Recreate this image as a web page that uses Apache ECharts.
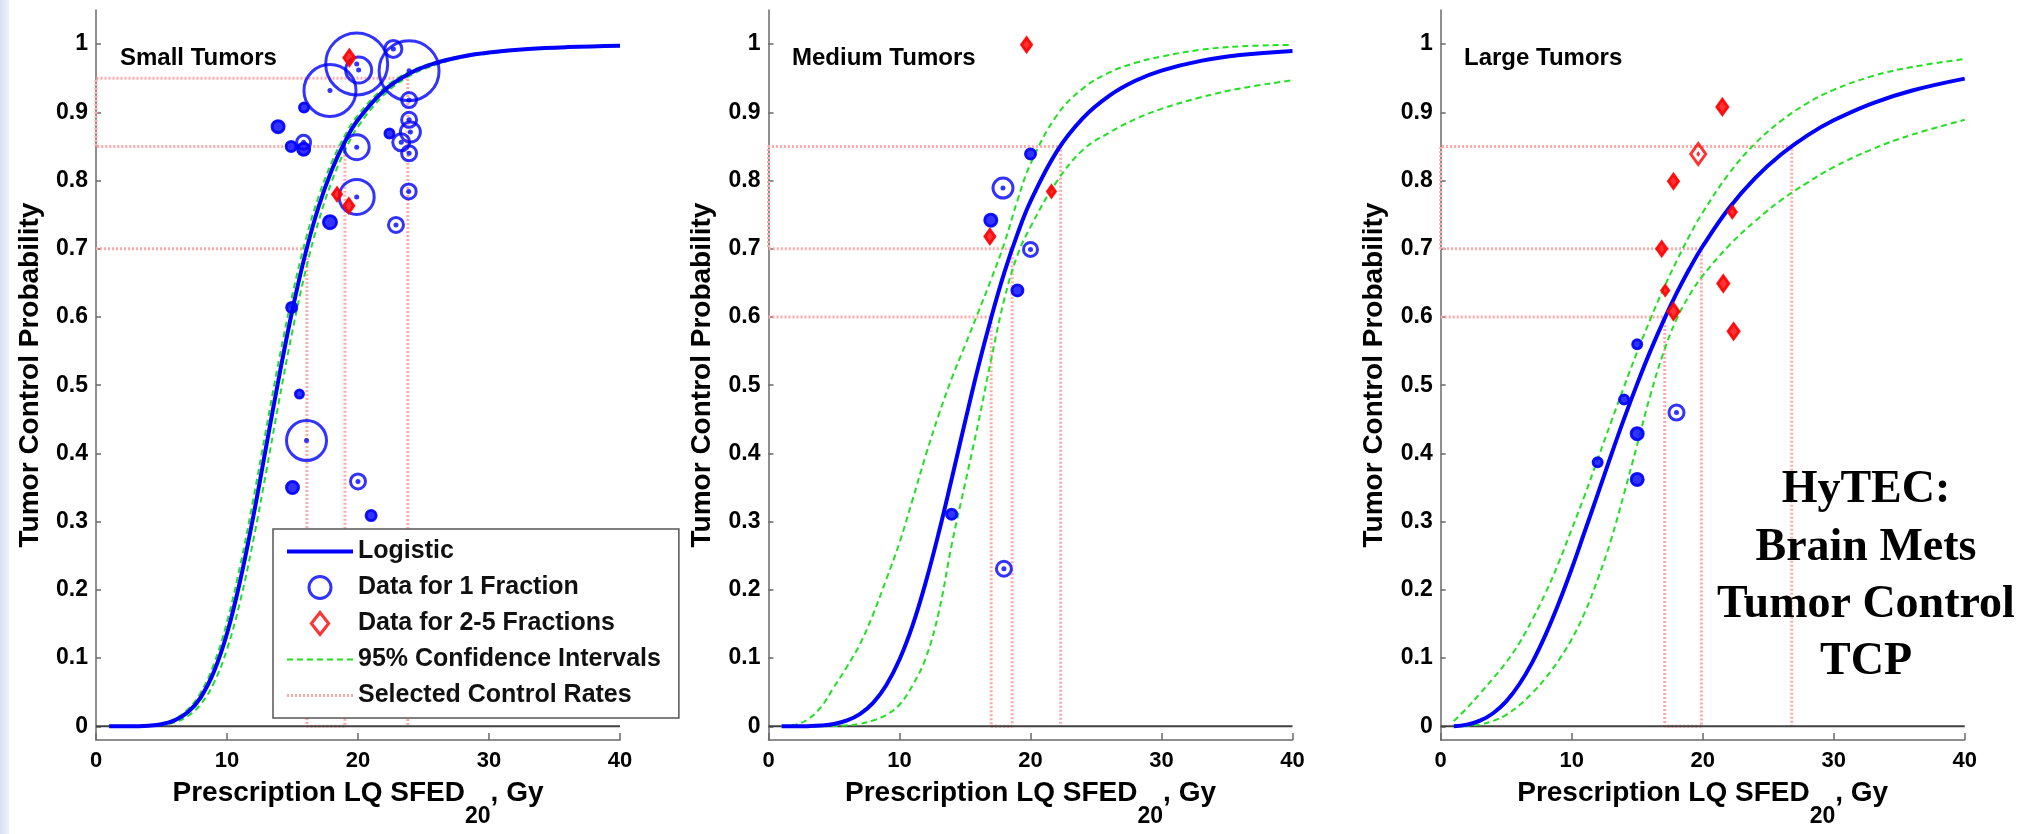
<!DOCTYPE html>
<html>
<head>
<meta charset="utf-8">
<script src="https://cdn.jsdelivr.net/npm/echarts@6/dist/echarts.min.js"></script>
<style>
html,body{margin:0;padding:0;background:#fff;}
#chart{width:2020px;height:834px;}
</style>
</head>
<body>
<div id="chart"></div>
<script>
// ---------- data ----------
const doseGrid = [1,2,3,4,5,6,7,8,9,10,11,12,13,14,15,16,17,18,19,20,22,24,26,28,30,33,36,40];

const smallFit   = [0,0,0.0002,0.0009,0.0031,0.0087,0.0205,0.0426,0.0799,0.136,0.213,0.307,0.411,0.515,0.611,0.694,0.762,0.8155,0.857,0.889,0.932,0.9576,0.9727,0.9819,0.9876,0.9928,0.9956,0.9976];
const smallUpper = [0,0,0.0003,0.0012,0.004,0.0108,0.0246,0.0498,0.0915,0.153,0.235,0.332,0.437,0.540,0.633,0.713,0.777,0.827,0.866,0.896,0.936,0.960,0.974,0.9828,0.988,0.9931,0.9958,0.9978];
const smallLower = [0,0,0.0001,0.0006,0.002,0.0059,0.0148,0.0325,0.0637,0.113,0.183,0.272,0.374,0.480,0.580,0.668,0.741,0.799,0.844,0.879,0.926,0.954,0.970,0.9806,0.986,0.9923,0.9952,0.9972];

const mediumFit   = [0,0,0.0003,0.0012,0.0035,0.0087,0.0183,0.0348,0.0607,0.098,0.148,0.211,0.284,0.364,0.446,0.526,0.599,0.665,0.7215,0.7695,0.8425,0.8915,0.9242,0.9463,0.9612,0.9754,0.9839,0.990];
const mediumUpper = [0.0001,0.0021,0.0103,0.0281,0.0577,0.0877,0.1212,0.165,0.2159,0.2691,0.3323,0.397,0.4569,0.5108,0.5582,0.6066,0.6553,0.7078,0.7706,0.8243,0.8953,0.935,0.9582,0.9726,0.9818,0.9917,0.9967,0.9989];
const mediumLower = [0,0,0,0.0001,0.0005,0.0015,0.0039,0.0087,0.017,0.0317,0.0602,0.1,0.1676,0.2676,0.3553,0.4435,0.538,0.6259,0.6904,0.7321,0.7984,0.845,0.87,0.89,0.905,0.922,0.935,0.947];

const largeFit   = [0.0003,0.0025,0.0083,0.0192,0.0367,0.0617,0.0942,0.134,0.180,0.231,0.286,0.341,0.397,0.451,0.502,0.550,0.594,0.6345,0.671,0.7037,0.7594,0.8035,0.8385,0.8663,0.8883,0.9136,0.932,0.9494];
const largeUpper = [0.0077,0.0267,0.048,0.0704,0.0939,0.122,0.1567,0.1955,0.2397,0.289,0.339,0.3925,0.4456,0.498,0.549,0.5964,0.6413,0.6816,0.7196,0.7531,0.81,0.8543,0.8877,0.9136,0.933,0.9534,0.9666,0.9781];
const largeLower = [0.0001,0.0007,0.0029,0.0079,0.0169,0.031,0.0491,0.0708,0.0967,0.1278,0.167,0.2163,0.2732,0.3413,0.4129,0.4851,0.5476,0.5966,0.6323,0.6604,0.7046,0.7405,0.7715,0.797,0.8196,0.8465,0.8673,0.889];

// selected control rates: doses and rates
const smallCtrlDose  = [16.1, 19.0, 23.8];
const smallCtrlRate  = [0.70, 0.85, 0.95];
const mediumCtrlDose = [17.0, 18.6, 22.3];
const mediumCtrlRate = [0.60, 0.70, 0.85];
const largeCtrlDose  = [17.1, 19.9, 26.8];
const largeCtrlRate  = [0.60, 0.70, 0.85];

// observed data: [dose, control rate, bubble weight]
const small1Fx = [[19.9,0.971,62],[20.05,0.962,26],[17.86,0.932,52],[23.9,0.961,60],[22.7,0.993,17],
  [15.88,0.907,9],[13.9,0.879,12],[14.9,0.85,10],[15.85,0.856,14],[15.85,0.846,12],[22.4,0.869,9],
  [23.9,0.918,15],[23.9,0.889,15],[24.0,0.871,20],[23.3,0.856,17],[23.9,0.84,15],[19.9,0.849,25],
  [19.9,0.776,35],[17.86,0.739,13],[23.87,0.784,15],[22.9,0.735,15],[14.94,0.614,10],[15.53,0.487,8],
  [16.07,0.419,40],[15.0,0.35,12],[20.0,0.359,15],[21.0,0.309,10]];
const small25Fx = [[19.34,0.980,11],[18.4,0.78,9],[19.3,0.763,10]];
const medium1Fx = [[20.0,0.839,10],[17.9,0.789,20],[16.97,0.742,12],[20.0,0.699,14],[19.0,0.639,11],[13.98,0.311,10],[17.97,0.231,15]];
const medium25Fx = [[19.7,0.999,10],[21.6,0.784,8],[16.9,0.718,10]];
const large1Fx = [[15.0,0.56,9],[14.0,0.479,9],[18.0,0.46,15],[15.0,0.429,12],[11.98,0.387,9],[15.0,0.362,12]];
const large25Fx = [[21.5,0.908,11],[19.66,0.839,15],[17.77,0.799,10],[22.26,0.754,8],[16.87,0.7,10],[17.14,0.639,7],[17.77,0.608,11],[21.57,0.649,11],[22.36,0.579,11]];

const panelTitles = ['Small Tumors','Medium Tumors','Large Tumors'];
const yTickValues = [0,0.1,0.2,0.3,0.4,0.5,0.6,0.7,0.8,0.9,1];
const legendNames = ['Logistic','Data for 1 Fraction','Data for 2-5 Fractions','95% Confidence Intervals','Selected Control Rates'];
const noteLines = ['HyTEC:','Brain Mets','Tumor Control','TCP'];

// ---------- build ----------
const FONT = '"Liberation Sans", Arial, Helvetica, sans-serif';
const BLUE = '#0000ff', RED = '#ff0000', GREEN = '#22e022', PINK = '#ffaaaa';
const HIDDEN = {color: 'rgba(0,0,0,0)', borderColor: 'rgba(0,0,0,0)', borderWidth: 0, opacity: 0};
const RING_STYLE = {color: 'rgba(0,0,0,0)', borderColor: BLUE, borderWidth: 3};
const DIAMOND_STYLE = {color: 'rgba(0,0,0,0)', borderColor: RED, borderWidth: 3};
const FIT_LINE = {color: BLUE, width: 4};
const CI_LINE = {color: GREEN, width: 2, type: [6, 4]};
const CTRL_LINE = {color: PINK, width: 3, type: [2, 2]};

const panels = [
  {fit: smallFit, up: smallUpper, lo: smallLower, cd: smallCtrlDose, cr: smallCtrlRate, d1: small1Fx, d2: small25Fx},
  {fit: mediumFit, up: mediumUpper, lo: mediumLower, cd: mediumCtrlDose, cr: mediumCtrlRate, d1: medium1Fx, d2: medium25Fx},
  {fit: largeFit, up: largeUpper, lo: largeLower, cd: largeCtrlDose, cr: largeCtrlRate, d1: large1Fx, d2: large25Fx}
];
const gridLefts = [96, 768.5, 1440.7];

function pairs(ys){ return doseGrid.map((x,i)=>[x, ys[i]]); }
function ctrlPath(d, r){
  return [[0,r[0]],[d[0],r[0]],[d[0],0],[d[1],0],[d[1],r[1]],[0,r[1]],[0,r[2]],[d[2],r[2]],[d[2],0]];
}

const grids = [], xAxes = [], yAxes = [], series = [];
panels.forEach((p, i) => {
  grids.push({left: gridLefts[i], top: 10, width: 524, height: 730, containLabel: false});
  xAxes.push({
    type: 'value', gridIndex: i, min: 0, max: 40, interval: 10,
    name: '{b|Prescription LQ SFED}{s|20}{b|, Gy}',
    nameLocation: 'middle', nameGap: 39,
    nameTextStyle: {
      rich: {
        b: {fontFamily: FONT, fontWeight: 'bold', fontSize: 28, lineHeight: 28, verticalAlign: 'top', color: '#000'},
        s: {fontFamily: FONT, fontWeight: 'bold', fontSize: 23, lineHeight: 24, padding: [26,0,0,0], verticalAlign: 'top', color: '#000'}
      }
    },
    axisLine: {show: true, onZero: false, lineStyle: {color: '#6a6a6a', width: 1.5}},
    axisTick: {show: true, inside: true, length: 7, lineStyle: {color: '#6a6a6a', width: 1.5}},
    axisLabel: {fontFamily: FONT, fontWeight: 'bold', fontSize: 22, color: '#000', margin: 10, lineHeight: 22},
    splitLine: {show: false}
  });
  yAxes.push({
    type: 'value', gridIndex: i, min: -0.02, max: 1.05,
    name: 'Tumor Control Probability', nameLocation: 'middle', nameGap: 52,
    nameTextStyle: {fontFamily: FONT, fontWeight: 'bold', fontSize: 28, lineHeight: 28, color: '#000'},
    axisLine: {show: true, lineStyle: {color: '#6a6a6a', width: 1.5}},
    axisTick: {show: true, inside: true, length: 5, customValues: yTickValues, lineStyle: {color: '#6a6a6a', width: 1.5}},
    axisLabel: {fontFamily: FONT, fontWeight: 'bold', fontSize: 23, color: '#000', margin: 8, customValues: yTickValues,
      formatter: v => String(Math.round(v*10)/10)},
    splitLine: {show: false}
  });
  series.push({
    type: 'line', name: 'Selected Control Rates', xAxisIndex: i, yAxisIndex: i,
    data: ctrlPath(p.cd, p.cr), symbol: 'none', silent: true, z: 1,
    itemStyle: HIDDEN, lineStyle: CTRL_LINE
  });
  series.push({
    type: 'line', name: 'zero', xAxisIndex: i, yAxisIndex: i,
    data: [[0,0],[40,0]], symbol: 'none', silent: true, z: 1,
    lineStyle: {color: '#404040', width: 2}
  });
  series.push({
    type: 'line', name: '95% Confidence Intervals', xAxisIndex: i, yAxisIndex: i,
    data: pairs(p.up), symbol: 'none', smooth: 0.4, z: 2,
    itemStyle: HIDDEN, lineStyle: CI_LINE
  });
  series.push({
    type: 'line', name: '95% Confidence Intervals', xAxisIndex: i, yAxisIndex: i,
    data: pairs(p.lo), symbol: 'none', smooth: 0.4, z: 2,
    itemStyle: HIDDEN, lineStyle: CI_LINE
  });
  series.push({
    type: 'line', name: 'Logistic', xAxisIndex: i, yAxisIndex: i,
    data: pairs(p.fit), symbol: 'none', smooth: 0.4, z: 3,
    itemStyle: HIDDEN, lineStyle: FIT_LINE
  });
  series.push({
    type: 'scatter', name: 'Data for 1 Fraction', xAxisIndex: i, yAxisIndex: i,
    data: p.d1, symbol: 'circle', symbolSize: v => v[2], z: 4,
    itemStyle: RING_STYLE
  });
  series.push({
    type: 'scatter', name: 'dot1', xAxisIndex: i, yAxisIndex: i,
    data: p.d1, symbol: 'circle', symbolSize: v => (v[2] <= 13 ? v[2] + 2 : 5), z: 5,
    itemStyle: {color: BLUE}
  });
  series.push({
    type: 'scatter', name: 'Data for 2-5 Fractions', xAxisIndex: i, yAxisIndex: i,
    data: p.d2, symbol: 'diamond', symbolSize: v => [v[2], v[2]*1.4], z: 4,
    itemStyle: DIAMOND_STYLE
  });
  series.push({
    type: 'scatter', name: 'dot2', xAxisIndex: i, yAxisIndex: i,
    data: p.d2, symbol: 'diamond', symbolSize: v => (v[2] <= 12 ? [v[2]+2, (v[2]+2)*1.4] : [4, 6]), z: 5,
    itemStyle: {color: RED}
  });
});

const graphics = [
  {type: 'rect', left: 0, top: 0, z: -10, shape: {x: 0, y: 0, width: 9, height: 834},
   style: {fill: new echarts.graphic.LinearGradient(0, 0, 1, 0, [{offset: 0, color: '#d6e0f1'}, {offset: 1, color: '#eef2fa'}])}}
];
const titleX = [120, 792, 1464];
panelTitles.forEach((t, i) => {
  graphics.push({type: 'text', x: titleX[i], y: 58, z: 10,
    style: {text: t, font: 'bold 24px ' + FONT, fill: '#000', textAlign: 'left', textVerticalAlign: 'middle'}});
});
const noteBase = [505, 563, 620, 677];
noteLines.forEach((t, i) => {
  graphics.push({type: 'text', x: 1866, y: noteBase[i] - 15, z: 10,
    style: {text: t, font: 'bold 46px "Liberation Serif", "Times New Roman", serif', fill: '#000', textAlign: 'center', textVerticalAlign: 'middle'}});
});

const legendData = [
  {name: legendNames[0], itemStyle: HIDDEN, lineStyle: FIT_LINE},
  {name: legendNames[1], itemStyle: RING_STYLE},
  {name: legendNames[2], icon: 'path://M11,0L22,14L11,28L0,14Z', itemStyle: DIAMOND_STYLE},
  {name: legendNames[3], itemStyle: HIDDEN, lineStyle: CI_LINE},
  {name: legendNames[4], itemStyle: HIDDEN, lineStyle: CTRL_LINE}
];

const chart = echarts.init(document.getElementById('chart'), null, {renderer: 'canvas'});
chart.setOption({
  backgroundColor: '#fff',
  animation: false,
  grid: grids,
  xAxis: xAxes,
  yAxis: yAxes,
  legend: {
    data: legendData,
    orient: 'vertical', left: 273, top: 529,
    itemWidth: 66, itemHeight: 22, itemGap: 11,
    padding: [10, 18, 10, 12],
    symbolKeepAspect: true,
    backgroundColor: '#fff', borderColor: '#555', borderWidth: 1.5, borderRadius: 0,
    selectedMode: false,
    textStyle: {fontFamily: FONT, fontWeight: 'bold', fontSize: 25, lineHeight: 24, color: '#111'}
  },
  graphic: graphics,
  series: series
});
</script>
</body>
</html>
